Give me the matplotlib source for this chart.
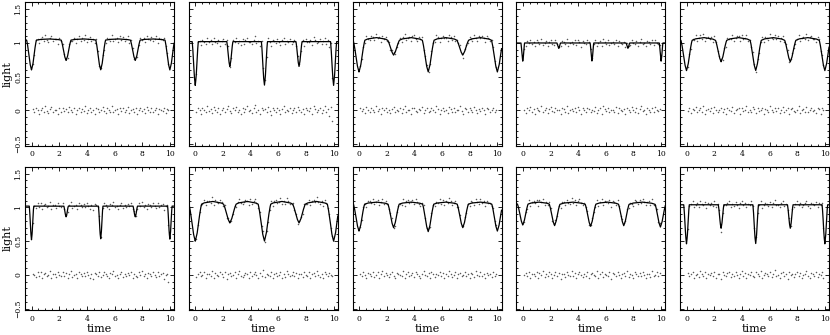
import numpy as np
import matplotlib.pyplot as plt
from matplotlib.ticker import MultipleLocator, FuncFormatter

plt.rcParams['font.family'] = 'DejaVu Serif'

# observation times (shared by all panels)
obs_time = [0.08, 0.2, 0.31, 0.45, 0.52, 0.66, 0.79, 0.88, 1.0, 1.12, 1.21, 1.35, 1.44,
            1.58, 1.67, 1.8, 1.93, 2.02, 2.15, 2.27, 2.36, 2.5, 2.61, 2.73, 2.84, 2.95,
            3.08, 3.19, 3.3, 3.42, 3.55, 3.63, 3.77, 3.86, 3.99, 4.1, 4.22, 4.33, 4.41,
            4.56, 4.68, 4.79, 4.9, 5.03, 5.15, 5.24, 5.38, 5.47, 5.6, 5.71, 5.83, 5.92,
            6.05, 6.16, 6.27, 6.4, 6.49, 6.62, 6.74, 6.85, 6.96, 7.08, 7.17, 7.31, 7.42,
            7.53, 7.65, 7.76, 7.87, 7.99, 8.1, 8.19, 8.33, 8.44, 8.55, 8.67, 8.78, 8.9,
            9.01, 9.13, 9.22, 9.36, 9.47, 9.58, 9.7, 9.81, 9.9]

# eclipse model per panel (row 1 left->right, then row 2)
ecl_times = [[0, 2.5, 5, 7.5, 10], [0, 2.5, 5, 7.5, 10], [0, 2.5, 5, 7.5, 10],
             [0, 2.6, 5, 7.6, 10], [0, 2.5, 5, 7.5, 10],
             [0, 2.5, 5, 7.5, 10], [0, 2.5, 5, 7.5, 10], [0, 2.5, 5, 7.5, 10],
             [0, 2.3, 4.9, 7.3, 9.95], [0, 2.5, 5, 7.5, 10]]
ecl_minima = [[0.6, 0.74, 0.6, 0.74, 0.6], [0.37, 0.65, 0.37, 0.65, 0.37],
              [0.57, 0.82, 0.57, 0.82, 0.57], [0.73, 0.92, 0.73, 0.92, 0.73],
              [0.59, 0.72, 0.59, 0.72, 0.59],
              [0.52, 0.86, 0.53, 0.86, 0.53], [0.5, 0.77, 0.5, 0.77, 0.5],
              [0.65, 0.7, 0.64, 0.7, 0.65], [0.74, 0.73, 0.72, 0.73, 0.71],
              [0.46, 0.69, 0.46, 0.69, 0.46]]
ecl_width = [0.35, 0.22, 0.42, 0.13, 0.4, 0.16, 0.45, 0.4, 0.38, 0.2]
edge_level = [1.03, 1.02, 1.0, 1.0, 1.0, 1.02, 1.0, 1.02, 1.02, 1.04]
peak_level = [1.06, 1.02, 1.08, 1.0, 1.08, 1.02, 1.09, 1.08, 1.08, 1.04]

# residuals (units of 0.01 in light)
resid = [
    [2, -3, 4, 1, -5, 0, 3, -2, 6, -1, -4, 2, 5, -3, 0, 1, -6, 3, -2, 4, -1, 2, -3, 5, 0, -2, 3, -5, 1, 4,
     -3, 2, -1, 6, -4, 0, 3, -2, 1, -5, 4, 2, -3, 0, 5, -1, -4, 3, 1, -2, 6, -3, 0, 2, -5, 4, -1, 3, -2, 0,
     5, -4, 1, 2, -3, 4, -6, 0, 3, -1, 2, -4, 5, 1, -2, 3, -3, 0, 4, -5, 2, 1, -1, 3, -4, 2, 0],
    [-2, 4, 1, -5, 3, 0, -3, 6, -1, 2, -4, 5, 0, -2, 3, -6, 1, 4, -3, 2, 7, -1, -4, 3, 0, 5, -2, 1, -5, 4,
     -3, 2, 6, -1, 0, -4, 3, 8, -2, 1, -6, 4, 0, 2, -3, 5, -1, -7, 3, 1, -2, 4, 0, -5, 2, 6, -3, 1, -1, 4,
     -4, 0, 3, -2, 5, 1, -3, 2, -6, 4, 0, -1, 3, -5, 7, 2, -2, 0, 4, -4, 1, 6, -3, 2, -8, 5, -15],
    [3, -1, 2, -4, 5, 0, -2, 4, 1, -3, 6, -1, 2, -5, 3, 0, 4, -2, 1, -4, 2, 5, -3, 0, -1, 3, -4, 2, 6, -2,
     0, 1, -5, 3, 4, -1, -3, 2, 0, 5, -4, 1, 3, -2, -1, 4, 0, -3, 6, 2, -5, 1, 3, -1, 0, -4, 5, 2, -2, 4,
     -3, 1, 0, 6, -1, -5, 3, 2, -2, 4, 0, -3, 5, 1, -4, 2, -1, 3, 0, -5, 4, 2, -2, 1, 3, -3, 0],
    [1, -4, 3, 0, 5, -2, 2, -5, 4, 1, -1, 6, -3, 0, 3, -4, 2, 5, -1, -3, 4, 0, 1, -5, 3, 2, -2, 6, -4, 0,
     2, -1, 4, -3, 5, 1, -6, 3, 0, -2, 4, 2, -3, 1, -1, 5, -4, 0, 3, -5, 6, 2, -1, 4, -3, 0, 1, -2, 5, -4,
     3, 0, -1, 2, -6, 4, 1, -3, 5, 0, -2, 3, -4, 2, 6, -1, 0, -5, 3, 1, -2, 4, -3, 5, 0, -1, 2],
    [-1, 3, -4, 2, 0, 5, -3, 1, 4, -2, 6, -5, 0, 2, -1, 3, -4, 5, 1, -2, 0, 4, -3, 2, -6, 3, 1, -1, 5, -4,
     0, 2, 3, -5, 4, -1, 1, 6, -3, 0, -2, 5, 2, -4, 3, -1, 0, 4, -5, 2, 1, -3, 6, 0, -2, 4, -1, 3, -4, 1,
     5, -2, 0, 3, -5, 2, 4, -1, -3, 1, 6, -4, 0, 2, -2, 5, -3, 1, 3, -1, 0, -4, 4, 2, -6, 3, 1],
    [2, 0, -3, 4, -1, 5, -4, 1, 3, -2, 0, 6, -5, 2, 1, -3, 4, 0, -1, 5, -2, 3, -4, 1, 6, -3, 0, 2, -5, 4,
     1, -1, 3, -2, 5, 0, -4, 2, -6, 3, 1, -1, 4, -3, 0, 5, 2, -2, -4, 3, 1, 6, -1, 0, -5, 2, 4, -3, 1, -2,
     3, 0, 5, -4, 2, -1, -3, 4, 0, 6, -2, 1, -5, 3, 2, -1, 4, 0, -3, 5, -2, 1, 3, -6, 0, 2, -10],
    [-3, 2, 5, -1, 0, 4, -4, 2, 1, -2, 6, -5, 3, 0, -1, 4, 2, -3, 5, -6, 1, 3, -2, 0, 4, -4, 2, 6, -1, -3,
     0, 3, 1, -5, 4, -2, 2, 5, 0, -4, 3, -1, 7, -3, 1, 0, -2, 4, -5, 2, 3, -1, 0, 5, -4, 1, -3, 6, 2, -2,
     0, 4, -1, 3, -5, 1, 2, -3, 5, 0, -2, 4, -4, 1, 3, -1, 6, 0, -3, 2, -5, 4, 1, -2, 3, 0, -1],
    [1, -2, 4, 0, -5, 3, 2, -1, 5, -3, 0, 4, -4, 1, 6, -2, 3, 0, -3, 2, 5, -1, -4, 3, 1, 0, -2, 6, -5, 2,
     4, -1, 0, 3, -3, 5, 1, -2, -4, 2, 6, 0, -1, 3, -5, 4, 1, -3, 2, 0, 5, -2, 3, -4, 1, -1, 6, 2, -3, 0,
     4, -5, 1, 3, -2, 0, 5, -1, 2, -4, 3, 1, -3, 6, 0, -2, 4, -1, 2, -5, 3, 0, 1, -3, 4, -2, 2],
    [0, 3, -2, 5, -4, 1, 2, -1, 4, -5, 3, 0, 6, -3, 1, -2, 4, 2, -4, 0, 5, -1, 3, -6, 2, 1, -3, 4, 0, -2,
     6, -1, 3, -4, 2, 5, 0, -3, 1, -1, 4, -5, 2, 3, 0, -2, 6, -4, 1, 5, -3, 2, 0, -1, 4, -6, 3, 1, -2, 5,
     0, -4, 2, 3, -1, 6, -3, 1, 0, -5, 4, 2, -2, 3, -1, 5, 0, -4, 1, 2, -3, 6, -1, 0, 4, -2, 3],
    [3, -2, 1, 5, -4, 0, 2, -3, 6, 1, -1, 4, -5, 2, 0, 3, -2, 5, -4, 1, 2, -6, 4, 0, -1, 3, 5, -3, 1, -2,
     4, 0, -5, 2, 6, -1, 3, -4, 1, 0, 5, -2, -3, 4, 2, -1, 6, -5, 0, 3, 1, -2, 4, -3, 2, 7, -1, 0, -4, 3,
     5, -2, 1, -6, 4, 0, 2, -3, 1, 5, -1, 3, -4, 0, 2, 6, -2, -5, 3, 1, -1, 4, -3, 2, 0, 5, -4],
]

# eclipse profile shape: depth fraction vs |t - tc| / width
EC_U = [0, 0.3, 0.6, 0.85, 1]
EC_F = [1, 0.8, 0.4, 0.12, 0]


def model(t, k):
    tc = list(ecl_times[k])
    full = [tc[0] - (tc[1] - tc[0])] + tc + [tc[-1] + (tc[-1] - tc[-2])]
    edge, peak = edge_level[k], peak_level[k]
    kt, ky = [], []
    for a, b in zip(full[:-1], full[1:]):
        d = b - a
        kt += [a, a + 0.25 * d, a + 0.5 * d, a + 0.75 * d]
        ky += [edge, edge + 0.75 * (peak - edge), peak, edge + 0.75 * (peak - edge)]
    kt.append(full[-1])
    ky.append(edge)
    y = np.interp(t, kt, ky)
    for c, m in zip(tc, ecl_minima[k]):
        u = np.abs(t - c) / ecl_width[k]
        y = y - (edge - m) * np.interp(u, EC_U, EC_F)
    return y


fig = plt.figure(figsize=(8.3, 3.35), dpi=100)
W, H = 830, 335
t_line = np.linspace(-0.6, 10.6, 2000)

for k in range(10):
    row, col = divmod(k, 5)
    left = 25 + 163.75 * col
    top = 2.5 if row == 0 else 167
    ax = fig.add_axes([left / W, 1 - (top + 143) / H, 149 / W, 143 / H])

    r = np.array(resid[k]) / 100.0
    n = min(len(obs_time), len(r))
    t = np.array(obs_time[:n])
    r = r[:n]

    ax.plot(t_line, model(t_line, k), color='k', lw=0.9)
    ax.scatter(t, model(t, k) + r, s=1.2, color='0.35', lw=0)
    ax.scatter(t, r, s=1.2, color='0.35', lw=0)

    ax.set_xlim(-0.47, 10.3)
    ax.set_ylim(-0.52, 1.6)
    ax.xaxis.set_major_locator(MultipleLocator(2))
    ax.xaxis.set_minor_locator(MultipleLocator(0.5))
    ax.yaxis.set_major_locator(MultipleLocator(0.5))
    ax.yaxis.set_minor_locator(MultipleLocator(0.1))
    ax.yaxis.set_major_formatter(FuncFormatter(lambda v, _: f'{v:g}'.replace('-', '\u2212')))
    ax.tick_params(which='both', direction='in', top=True, right=True, width=0.6, labelsize=5.5)
    ax.tick_params(which='major', length=3)
    ax.tick_params(which='minor', length=1.5)
    ax.tick_params(axis='x', pad=3.5)
    ax.tick_params(axis='y', pad=2, labelrotation=90)
    for s in ax.spines.values():
        s.set_linewidth(0.8)

    if col == 0:
        ax.set_ylabel('light', fontsize=8, labelpad=1)
        for lab in ax.get_yticklabels():
            lab.set_va('center')
    else:
        ax.tick_params(labelleft=False)
    if row == 1:
        ax.set_xlabel('time', fontsize=8, labelpad=1)

fig.savefig('out.png', dpi=100)
